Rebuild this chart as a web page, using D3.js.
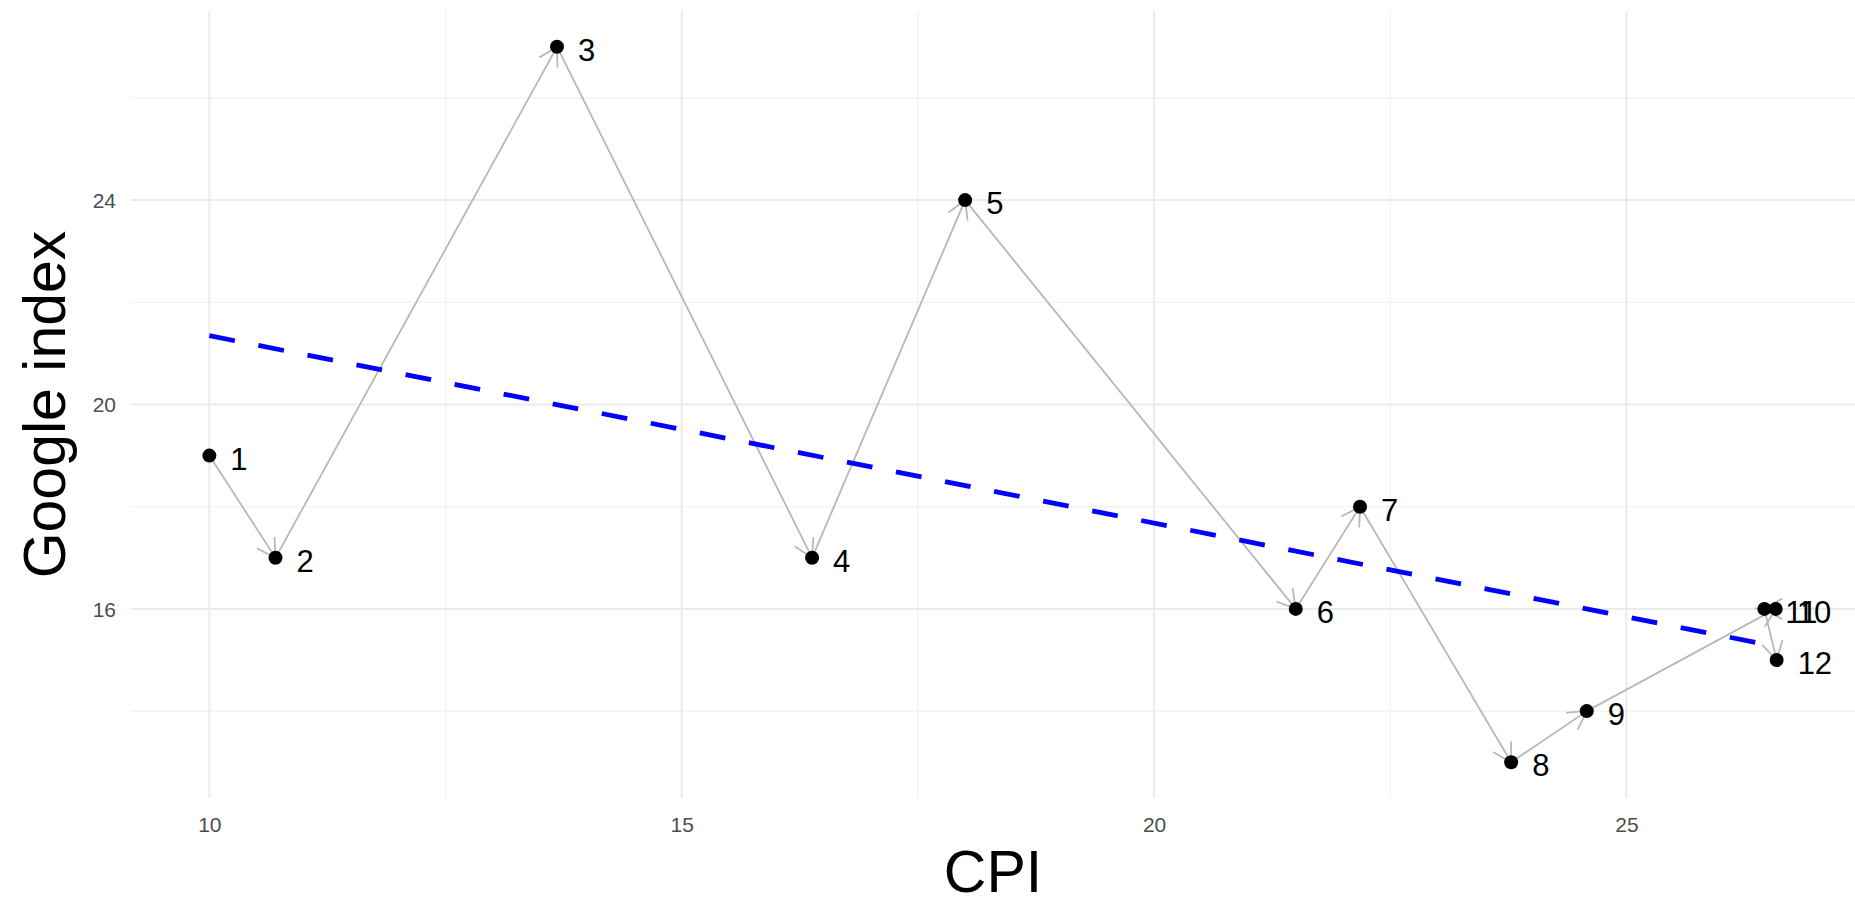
<!DOCTYPE html>
<html>
<head>
<meta charset="utf-8">
<script src="https://cdn.jsdelivr.net/npm/d3@7"></script>
<style>
  html, body { margin: 0; padding: 0; background: #ffffff; }
  svg { display: block; font-family: "Liberation Sans", Arial, sans-serif; }
</style>
</head>
<body>
<svg id="chart" width="1855" height="904"></svg>
<script>
// ---- data ----
const pointIds   = [1, 2, 3, 4, 5, 6, 7, 8, 9, 10, 11, 12];
const cpiValues  = [10.0, 10.7, 13.68, 16.38, 18.0, 21.5, 22.18, 23.78, 24.58, 26.58, 26.46, 26.59];
const googleIdx  = [19, 17, 27, 17, 24, 16, 18, 13, 14, 16, 16, 15];
const xMajorTicks = [10, 15, 20, 25];
const xMinorTicks = [12.5, 17.5, 22.5];
const yMajorTicks = [16, 20, 24];
const yMinorTicks = [14, 18, 22, 26];
const xTitle = "CPI";
const yTitle = "Google index";

const data = pointIds.map((id, i) => ({ id, x: cpiValues[i], y: googleIdx[i] }));

// ---- layout ----
const W = 1855, H = 904;
const panel = { left: 131, right: 1855, top: 11, bottom: 798 };

function expand(ext) {
  const r = ext[1] - ext[0];
  return [ext[0] - 0.05 * r, ext[1] + 0.05 * r];
}
const x = d3.scaleLinear().domain(expand(d3.extent(cpiValues))).range([panel.left, panel.right]);
const y = d3.scaleLinear().domain(expand(d3.extent(googleIdx))).range([panel.bottom, panel.top]);

const svg = d3.select("#chart");

// ---- grid ----
const grid = svg.append("g");
grid.selectAll("line.ymin").data(yMinorTicks).join("line")
  .attr("x1", panel.left).attr("x2", panel.right)
  .attr("y1", d => y(d)).attr("y2", d => y(d))
  .attr("stroke", "#f2f2f2").attr("stroke-width", 1.3);
grid.selectAll("line.xmin").data(xMinorTicks).join("line")
  .attr("y1", panel.top).attr("y2", panel.bottom)
  .attr("x1", d => x(d)).attr("x2", d => x(d))
  .attr("stroke", "#f2f2f2").attr("stroke-width", 1.3);
grid.selectAll("line.ymaj").data(yMajorTicks).join("line")
  .attr("x1", panel.left).attr("x2", panel.right)
  .attr("y1", d => y(d)).attr("y2", d => y(d))
  .attr("stroke", "#ebebeb").attr("stroke-width", 2);
grid.selectAll("line.xmaj").data(xMajorTicks).join("line")
  .attr("y1", panel.top).attr("y2", panel.bottom)
  .attr("x1", d => x(d)).attr("x2", d => x(d))
  .attr("stroke", "#ebebeb").attr("stroke-width", 2);

// ---- axes (text only) ----
const xAxis = d3.axisBottom(x).tickValues(xMajorTicks).tickSize(0).tickPadding(0);
const gx = svg.append("g").attr("transform", `translate(0,${panel.bottom})`).call(xAxis);
gx.select(".domain").remove();
gx.selectAll("text").attr("y", 34).attr("dy", 0)
  .attr("font-size", 21).attr("fill", "#4d4d4d")
  .attr("font-family", "Liberation Sans, Arial, sans-serif");

const yAxis = d3.axisLeft(y).tickValues(yMajorTicks).tickSize(0).tickPadding(0);
const gy = svg.append("g").attr("transform", `translate(116,0)`).call(yAxis);
gy.select(".domain").remove();
gy.selectAll("text").attr("x", 0).attr("dy", "0.35em")
  .attr("font-size", 21).attr("fill", "#4d4d4d")
  .attr("font-family", "Liberation Sans, Arial, sans-serif");

// ---- titles ----
svg.append("text").attr("x", (panel.left + panel.right) / 2).attr("y", 892)
  .attr("text-anchor", "middle").attr("font-size", 59).attr("fill", "#000")
  .text(xTitle);
svg.append("text")
  .attr("transform", `translate(65,${(panel.top + panel.bottom) / 2}) rotate(-90)`)
  .attr("text-anchor", "middle").attr("font-size", 59).attr("fill", "#000")
  .text(yTitle);

// ---- arrows between consecutive points ----
const segs = d3.pairs(data);
const arrowLen = 20, arrowAng = Math.PI / 6;
const segG = svg.append("g").attr("stroke", "#b8b8b8").attr("stroke-width", 1.8)
  .attr("fill", "none").attr("stroke-linecap", "round");
segs.forEach(([a, b]) => {
  const x1 = x(a.x), y1 = y(a.y), x2 = x(b.x), y2 = y(b.y);
  segG.append("line").attr("x1", x1).attr("y1", y1).attr("x2", x2).attr("y2", y2);
  const ang = Math.atan2(y1 - y2, x1 - x2);
  const p1 = [x2 + arrowLen * Math.cos(ang + arrowAng), y2 + arrowLen * Math.sin(ang + arrowAng)];
  const p2 = [x2 + arrowLen * Math.cos(ang - arrowAng), y2 + arrowLen * Math.sin(ang - arrowAng)];
  segG.append("path").attr("d", `M${p1[0]},${p1[1]}L${x2},${y2}L${p2[0]},${p2[1]}`);
});

// ---- points ----
svg.append("g").selectAll("circle").data(data).join("circle")
  .attr("cx", d => x(d.x)).attr("cy", d => y(d.y)).attr("r", 7).attr("fill", "#000");

// ---- linear trend (least squares) ----
const mx = d3.mean(cpiValues), my = d3.mean(googleIdx);
const sxy = d3.sum(data, d => (d.x - mx) * (d.y - my));
const sxx = d3.sum(data, d => (d.x - mx) ** 2);
const slope = sxy / sxx, intercept = my - slope * mx;
const [xmin, xmax] = d3.extent(cpiValues);
const fit = [xmin, xmax].map(v => ({ x: v, y: intercept + slope * v }));
svg.append("path")
  .attr("d", d3.line().x(d => x(d.x)).y(d => y(d.y))(fit))
  .attr("stroke", "#0000ff").attr("stroke-width", 4.8)
  .attr("stroke-dasharray", "26,24").attr("fill", "none");

// ---- labels ----
svg.append("g").selectAll("text").data(data).join("text")
  .attr("x", d => x(d.x) + 21).attr("y", d => y(d.y) + 14)
  .attr("font-size", 31).attr("fill", "#000")
  .text(d => d.id);
</script>
</body>
</html>
